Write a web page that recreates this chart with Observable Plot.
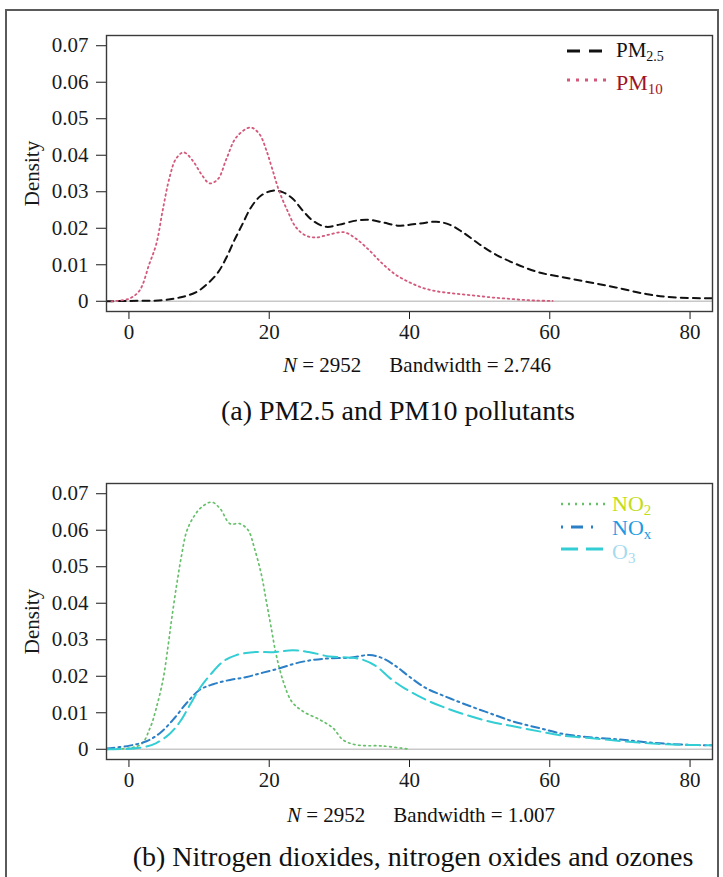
<!DOCTYPE html>
<html><head><meta charset="utf-8">
<script src="https://cdn.jsdelivr.net/npm/d3@7"></script>
<script src="https://cdn.jsdelivr.net/npm/@observablehq/plot@0.6"></script>
<style>
html,body{margin:0;padding:0;background:#fff;}
#page{position:relative;width:723px;height:877px;overflow:hidden;font-family:"Liberation Serif","Times New Roman",serif;}
#outer{position:absolute;left:5px;top:9px;width:714px;height:900px;border:2px solid #5a5a5a;box-sizing:border-box;}
.panel{position:absolute;left:0;}
#overlay{position:absolute;left:0;top:0;}
</style></head><body>
<div id="page">
  <div id="outer"></div>
  <div id="top" class="panel" style="top:0px"></div>
  <div id="bottom" class="panel" style="top:448px"></div>
  <svg id="overlay" width="723" height="877"></svg>
</div>
<script>
// ---------- data ----------
const xTicks = [0, 20, 40, 60, 80];
const yTicks = [0, 0.01, 0.02, 0.03, 0.04, 0.05, 0.06, 0.07];
const yTickLabels = ["0", "0.01", "0.02", "0.03", "0.04", "0.05", "0.06", "0.07"];

const pm25X = [-3.2, 0, 4.8, 7.4, 9.6, 11.2, 12.7, 13.9, 15.0, 16.2, 17.4, 18.8, 20.5, 21.9, 23.4, 24.8, 26.2, 28.1, 30.0, 32.4, 34.3, 36.2, 38.5, 40.2, 41.9, 43.8, 45.7, 47.6, 49.9, 52.3, 55.2, 58.5, 61.8, 65.6, 69.4, 73.7, 77.5, 83.5];
const pm25Y = [0, 0.0001, 0.0003, 0.0011, 0.0025, 0.0048, 0.0079, 0.012, 0.0166, 0.0212, 0.0257, 0.0289, 0.0303, 0.0299, 0.028, 0.0248, 0.0221, 0.0204, 0.021, 0.0221, 0.0223, 0.0216, 0.0207, 0.021, 0.0214, 0.0218, 0.021, 0.0189, 0.0157, 0.0128, 0.0102, 0.0079, 0.0066, 0.0052, 0.0038, 0.002, 0.0011, 0.0008];

const pm10X = [-2.5, 0, 1.5, 2.9, 3.9, 4.8, 5.8, 6.7, 7.8, 9.1, 10.3, 11.5, 12.7, 13.9, 15.3, 17.3, 18.6, 19.6, 20.5, 21.4, 22.6, 23.8, 25.2, 26.7, 28.6, 30.7, 32.4, 34.3, 36.2, 38.1, 40, 42, 44, 46, 48, 50, 52, 54, 56, 58, 60.4];
const pm10Y = [0, 0.0007, 0.0029, 0.0102, 0.0157, 0.0248, 0.034, 0.039, 0.0408, 0.0385, 0.0349, 0.0323, 0.0335, 0.039, 0.0449, 0.0476, 0.0458, 0.0413, 0.0358, 0.0303, 0.0248, 0.0203, 0.018, 0.0175, 0.0183, 0.0189, 0.0171, 0.0139, 0.0102, 0.0072, 0.0052, 0.0036, 0.0027, 0.0022, 0.0018, 0.0014, 0.001, 0.0007, 0.0004, 0.0002, 0.0001];

const no2X = [-3.2, 1.6, 3.0, 3.9, 4.9, 5.6, 6.1, 6.8, 7.5, 8.2, 9.2, 10.4, 11.8, 13.0, 14.4, 15.8, 17.0, 17.9, 18.9, 19.6, 20.3, 21.0, 22.0, 23.2, 24.8, 27.2, 29.1, 30.5, 32.4, 36.2, 40];
const no2Y = [0, 0.0012, 0.0058, 0.0113, 0.0195, 0.0286, 0.0358, 0.045, 0.0531, 0.0595, 0.0636, 0.0664, 0.0677, 0.0659, 0.0618, 0.0618, 0.06, 0.055, 0.0477, 0.0404, 0.0331, 0.0258, 0.0186, 0.0131, 0.0104, 0.0081, 0.0058, 0.0026, 0.0012, 0.0009, 0];

const noxX = [-3.2, 0.1, 2.5, 4.4, 6.3, 8.2, 10.1, 12.0, 14.4, 16.8, 19.1, 21.5, 23.9, 26.3, 28.6, 31.5, 34.3, 36.2, 38.1, 39.9, 42.4, 45.2, 48.1, 51.4, 54.8, 58.5, 61.9, 65.7, 70.4, 75.2, 79.9, 83.5];
const noxY = [0.0002, 0.001, 0.0022, 0.0044, 0.0081, 0.0126, 0.0163, 0.0178, 0.019, 0.0198, 0.021, 0.0222, 0.0236, 0.0245, 0.0249, 0.0251, 0.0258, 0.0249, 0.0227, 0.02, 0.0167, 0.0144, 0.0122, 0.0099, 0.0076, 0.0058, 0.0042, 0.0033, 0.0026, 0.0017, 0.0012, 0.0011];

const o3X = [-3.2, 1.6, 3.9, 5.9, 7.3, 8.7, 10.1, 11.6, 13.4, 15.3, 17.7, 20.6, 23.4, 25.8, 28.6, 31.5, 33.4, 35.3, 37.2, 39.3, 42.4, 45.2, 48.1, 51.4, 54.8, 58.5, 61.9, 65.7, 70.4, 75.2, 79.9, 83.5];
const o3Y = [0, 0.0004, 0.0017, 0.0044, 0.0076, 0.0122, 0.0167, 0.0204, 0.024, 0.0258, 0.0266, 0.0266, 0.0271, 0.0266, 0.0254, 0.0251, 0.0245, 0.0227, 0.0195, 0.0167, 0.0135, 0.0113, 0.0094, 0.0076, 0.0063, 0.0049, 0.0037, 0.0031, 0.0022, 0.0015, 0.0012, 0.0011];

const topNote = ["N", " = 2952", "Bandwidth = 2.746"];
const bottomNote = ["N", " = 2952", "Bandwidth = 1.007"];
const captionA = "(a) PM2.5 and PM10 pollutants";
const captionB = "(b) Nitrogen dioxides, nitrogen oxides and ozones";

// ---------- styles ----------
const FONT = '"Liberation Serif","Times New Roman",serif';
const topSeries = [
  {name: "PM", sub: "2.5", xs: pm25X, ys: pm25Y, color: "#111111", text: "#111111", width: 2, dash: "7,5", ldash: "13,9", tsize: 21, ssize: 14},
  {name: "PM", sub: "10", xs: pm10X, ys: pm10Y, color: "#d4587a", text: "#9e1326", width: 1.8, dash: "1.6,3.4", ldash: "3,6", tsize: 22, ssize: 15}
];
const bottomSeries = [
  {name: "NO", sub: "2", xs: no2X, ys: no2Y, color: "#66c06a", text: "#c2dc16", width: 1.7, dash: "1.6,3.6", ldash: "2,5", tsize: 22, ssize: 15},
  {name: "NO", sub: "x", xs: noxX, ys: noxY, color: "#2b7fc6", text: "#1c9be4", width: 2, dash: "8,4,2,4", ldash: "2,8,12,8,2,20", tsize: 22, ssize: 15},
  {name: "O", sub: "3", xs: o3X, ys: o3Y, color: "#33cdd4", text: "#a6dbee", width: 2, dash: "14,6", ldash: "17,8", tsize: 22, ssize: 15}
];

function rows(s) { return s.xs.map((x, i) => ({x, y: s.ys[i]})); }

function panel(series) {
  return Plot.plot({
    width: 723, height: 360,
    marginTop: 35, marginBottom: 49, marginLeft: 106, marginRight: 11,
    style: {fontFamily: FONT, fontSize: "21px", color: "#1a1a1a", background: "transparent", overflow: "visible"},
    x: {domain: [-3.2, 83.2], ticks: xTicks, tickSize: 8, tickPadding: 5, label: null},
    y: {domain: [-0.0028, 0.0728], ticks: yTicks, tickFormat: d => yTickLabels[yTicks.indexOf(d)],
        tickSize: 10, tickPadding: 8, label: "Density", labelAnchor: "center", labelOffset: 82, labelArrow: "none"},
    marks: [
      Plot.ruleY([0], {stroke: "#c8c8c8", strokeWidth: 1.5}),
      ...series.map(s => Plot.line(rows(s), {x: "x", y: "y", stroke: s.color, strokeWidth: s.width,
        strokeDasharray: s.dash, curve: "catmull-rom", clip: true})),
      Plot.frame({stroke: "#3a3a3a", strokeWidth: 1.4})
    ]
  });
}

document.getElementById("top").appendChild(panel(topSeries));
document.getElementById("bottom").appendChild(panel(bottomSeries));

// ---------- overlay text: legends, notes, captions ----------
const ov = d3.select("#overlay").attr("font-family", FONT);

function legend(series, x0, x1, tx, lineYs, baseYs) {
  series.forEach((s, i) => {
    ov.append("line").attr("x1", x0).attr("x2", x1).attr("y1", lineYs[i]).attr("y2", lineYs[i])
      .attr("stroke", s.color).attr("stroke-width", s.width + 1).attr("stroke-dasharray", s.ldash);
    const t = ov.append("text").attr("x", tx).attr("y", baseYs[i]).attr("fill", s.text).attr("font-size", s.tsize);
    t.append("tspan").text(s.name);
    t.append("tspan").attr("font-size", s.ssize).attr("dy", 4).text(s.sub);
  });
}
legend(topSeries, 567, 608, 616, [51, 80], [57, 90]);
legend(bottomSeries, 561, 606, 612, [504, 527, 549], [511, 535, 559]);

function note(parts, x, y) {
  const t = ov.append("text").attr("x", x).attr("y", y).attr("font-size", 21).attr("fill", "#111");
  t.append("tspan").attr("font-style", "italic").text(parts[0]);
  t.append("tspan").text(parts[1]);
  t.append("tspan").attr("dx", 28).text(parts[2]);
}
note(topNote, 283, 372);
note(bottomNote, 287, 822);

ov.append("text").attr("x", 398).attr("y", 420).attr("text-anchor", "middle").attr("font-size", 28).attr("fill", "#111").text(captionA);
ov.append("text").attr("x", 413).attr("y", 866).attr("text-anchor", "middle").attr("font-size", 28).attr("fill", "#111").text(captionB);
</script>
</body></html>
